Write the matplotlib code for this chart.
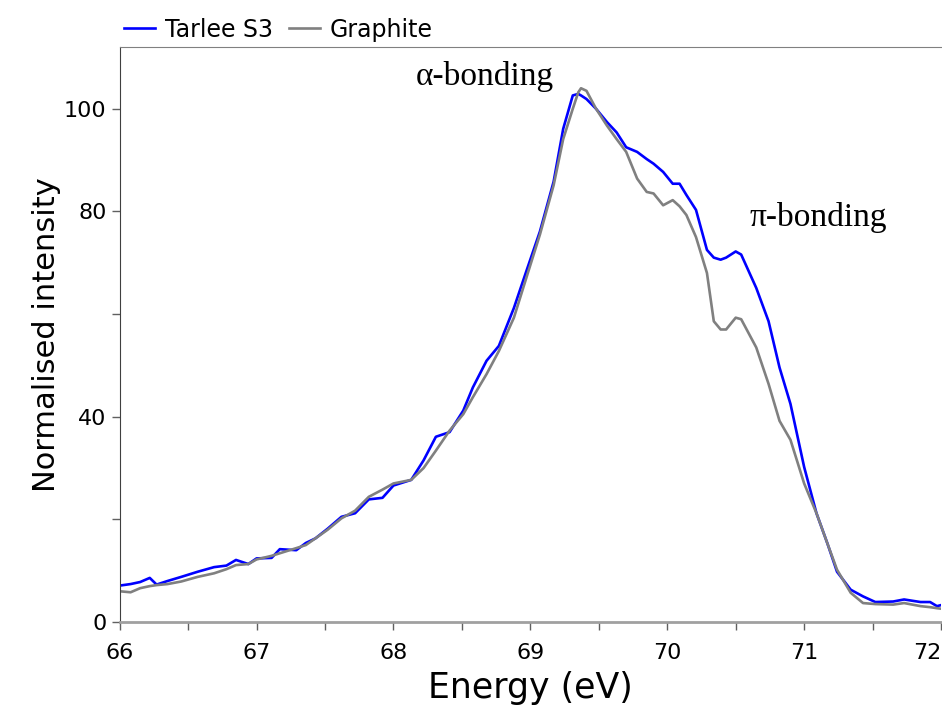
import matplotlib
matplotlib.use("Agg")
import matplotlib.pyplot as plt

# values
energy = [66.00, 66.08, 66.15, 66.22, 66.27, 66.35, 66.45, 66.57, 66.69, 66.78,
          66.85, 66.94, 67.00, 67.11, 67.17, 67.29, 67.36, 67.43, 67.52, 67.62,
          67.72, 67.82, 67.92, 68.00, 68.13, 68.22, 68.31, 68.41, 68.51, 68.58,
          68.68, 68.77, 68.88, 68.97, 69.07, 69.17, 69.24, 69.31, 69.35, 69.37,
          69.41, 69.48, 69.56, 69.63, 69.70, 69.78, 69.85, 69.90, 69.97, 70.04,
          70.09, 70.14, 70.21, 70.29, 70.34, 70.39, 70.43, 70.50, 70.54, 70.65,
          70.74, 70.82, 70.90, 71.00, 71.09, 71.17, 71.24, 71.34, 71.43, 71.52,
          71.65, 71.73, 71.85, 71.92, 71.97, 72.00]
tarlee = [7.1, 7.4, 7.8, 8.6, 7.3, 8.0, 8.8, 9.8, 10.7, 11.0,
          12.1, 11.3, 12.4, 12.5, 14.2, 14.0, 15.4, 16.3, 18.2, 20.5,
          21.2, 23.9, 24.2, 26.6, 27.7, 31.5, 36.1, 37.0, 41.2, 45.7,
          50.9, 53.8, 61.2, 68.3, 76.1, 85.8, 96.1, 102.6, 102.9, 102.6,
          101.9, 100.0, 97.4, 95.4, 92.5, 91.6, 90.2, 89.3, 87.7, 85.4,
          85.4, 83.2, 80.3, 72.5, 71.0, 70.6, 71.0, 72.2, 71.6, 65.1,
          58.6, 49.6, 42.5, 30.2, 21.2, 15.3, 9.8, 6.3, 5.0, 3.9,
          4.0, 4.4, 3.9, 3.9, 3.1, 3.3]
graphite = [6.0, 5.8, 6.6, 7.0, 7.2, 7.4, 7.9, 8.8, 9.5, 10.3,
            11.1, 11.3, 12.2, 12.9, 13.4, 14.4, 15.0, 16.3, 18.0, 20.2,
            21.7, 24.4, 25.8, 27.0, 27.7, 30.0, 33.4, 37.3, 40.5, 43.8,
            48.3, 52.8, 59.3, 67.0, 75.5, 85.1, 94.1, 100.0, 103.2, 104.0,
            103.5, 100.0, 96.7, 94.1, 91.6, 86.4, 83.8, 83.5, 81.2, 82.2,
            81.0, 79.3, 75.0, 68.0, 58.6, 57.0, 57.0, 59.3, 59.0, 53.5,
            46.4, 39.2, 35.5, 27.0, 21.2, 15.3, 10.2, 5.7, 3.7, 3.5,
            3.4, 3.7, 3.1, 2.9, 2.7, 2.6]

y_ticks = [0, 20, 40, 60, 80, 100]
y_tick_labels = ["0", "", "40", "", "80", "100"]
x_ticks = [66, 67, 68, 69, 70, 71, 72]

fig = plt.figure(figsize=(9.42, 7.15), dpi=100)
ax = fig.add_axes([0.127, 0.13, 0.872, 0.804])

ax.plot(energy, tarlee, color="#0000ff", lw=1.9, label="Tarlee S3")
ax.plot(energy, graphite, color="#808080", lw=1.9, label="Graphite")

ax.set_xlim(66, 72)
ax.set_ylim(0, 112)
ax.set_xticks(x_ticks)
ax.set_xticks([66.5 + i for i in range(6)], minor=True)
ax.set_yticks(y_ticks)
ax.set_yticklabels(y_tick_labels)

ax.tick_params(axis="both", direction="out", colors="#606060", labelcolor="black",
               labelsize=16, length=6, width=1)
ax.tick_params(axis="x", which="minor", colors="#606060", length=6, width=1)
ax.tick_params(axis="x", pad=9)

# last label sits at the figure edge; keep it inside
ax.get_xticklabels()[-1].set_horizontalalignment("right")

ax.spines["right"].set_visible(False)
ax.spines["top"].set_color("#808080")
ax.spines["left"].set_color("#404040")
ax.spines["left"].set_linewidth(0.8)
ax.spines["bottom"].set_color("#a0a0a0")
ax.spines["bottom"].set_linewidth(2)

ax.set_xlabel("Energy (eV)", fontsize=25, labelpad=6)
ax.set_ylabel("Normalised intensity", fontsize=22, labelpad=2)

ax.text(68.16, 106.3, "α-bonding", family="Liberation Serif", fontsize=24, va="center")
ax.text(70.6, 78.8, "π-bonding", family="Liberation Serif", fontsize=24, va="center")

fig.legend(loc="upper left", bbox_to_anchor=(0.117, 0.995), ncol=2, frameon=False,
           fontsize=17, handlelength=1.3, handletextpad=0.4, columnspacing=0.7,
           borderaxespad=0.2)

fig.savefig("out.png", dpi=100)
